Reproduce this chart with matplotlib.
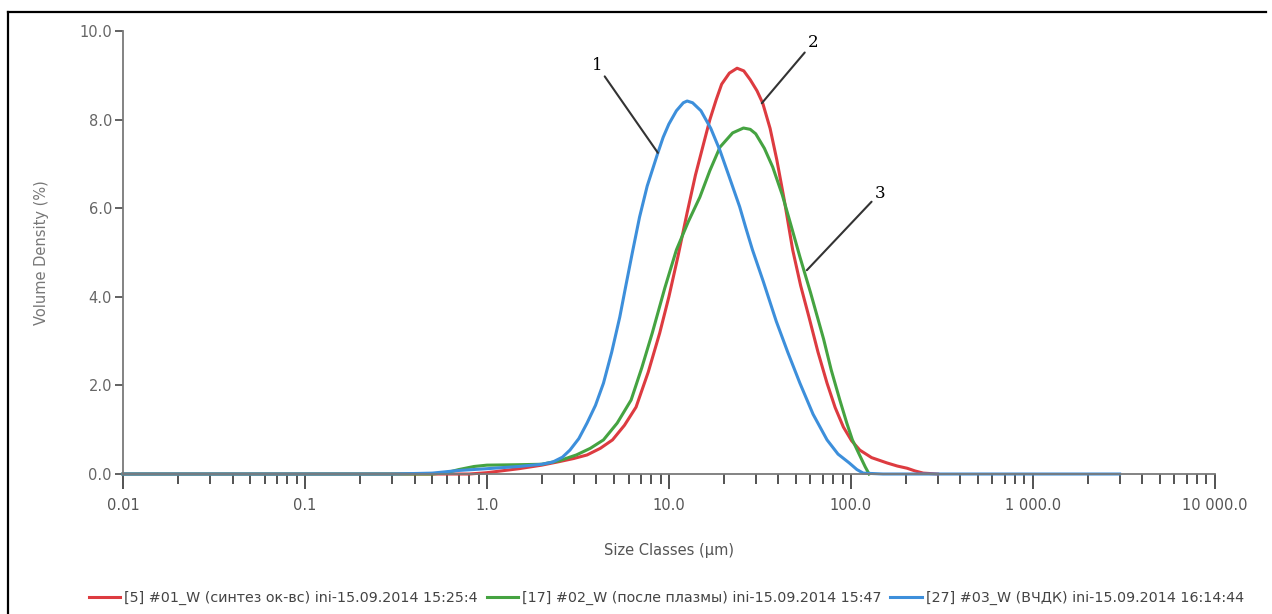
import matplotlib.pyplot as plt
from matplotlib.lines import Line2D
from matplotlib.ticker import FixedLocator, LogLocator, NullFormatter

plt.rcParams['font.family'] = ['DejaVu Sans']

# sizes (um) and volume density (%)
size_blue = [0.01, 0.3, 0.5, 0.7, 1.0, 1.5, 2.0, 2.3, 2.6, 2.86, 3.2, 3.55, 3.95, 4.37, 4.85, 5.37,
             5.8, 6.3, 6.9, 7.6, 8.7, 9.3, 10.0, 11.0, 12.0, 12.6, 13.5, 15.0, 17.0, 19.1, 21.5,
             24.5, 26.5, 28.8, 33.0, 38.9, 45.0, 52.5, 62.0, 74.0, 85.0, 98.0, 108.0, 117.0,
             150.0, 3000.0]
vol_blue = [0.0, 0.0, 0.02, 0.08, 0.12, 0.17, 0.22, 0.27, 0.38, 0.54, 0.8, 1.15, 1.55, 2.05, 2.75, 3.54,
            4.25, 5.0, 5.8, 6.5, 7.25, 7.6, 7.9, 8.2, 8.38, 8.42, 8.38, 8.2, 7.8, 7.3, 6.7,
            6.03, 5.55, 5.06, 4.35, 3.45, 2.75, 2.05, 1.35, 0.77, 0.45, 0.25, 0.1, 0.02,
            0.0, 0.0]

size_red = [0.01, 0.8, 1.0, 1.5, 2.0, 2.5, 3.0, 3.55, 4.2, 4.9, 5.7, 6.6, 7.7, 8.9, 10.0, 11.2,
            12.6, 14.0, 15.5, 16.8, 18.2, 19.5, 21.5, 23.7, 25.8, 28.0, 30.5, 32.8, 36.0, 39.2,
            43.0, 47.9, 53.0, 58.9, 66.0, 74.0, 82.0, 91.0, 101.0, 112.0, 130.0, 158.0, 180.0,
            204.0, 225.0, 250.0, 300.0]
vol_red = [0.0, 0.0, 0.03, 0.12, 0.2, 0.28, 0.35, 0.43, 0.58, 0.77, 1.1, 1.51, 2.3, 3.18, 4.0, 4.9,
           5.9, 6.75, 7.45, 8.0, 8.45, 8.8, 9.05, 9.16, 9.1, 8.9, 8.65, 8.37, 7.8, 7.09,
           6.2, 5.06, 4.25, 3.54, 2.75, 2.05, 1.5, 1.06, 0.75, 0.54, 0.37, 0.25, 0.18,
           0.13, 0.07, 0.02, 0.0]

size_green = [0.01, 0.5, 0.6, 0.7, 0.85, 1.0, 1.5, 2.0, 2.5, 3.1, 3.7, 4.37, 5.2, 6.2, 7.1, 8.1,
              9.5, 11.0, 12.8, 14.8, 16.8, 19.1, 22.4, 25.7, 28.0, 30.0, 33.5, 37.2, 42.0, 47.0,
              52.5, 60.0, 70.8, 78.0, 87.0, 95.0, 102.0, 111.0, 120.0, 126.0]
vol_green = [0.0, 0.0, 0.03, 0.1, 0.17, 0.2, 0.21, 0.22, 0.3, 0.43, 0.58, 0.77, 1.15, 1.67, 2.4, 3.18,
             4.2, 5.06, 5.7, 6.25, 6.85, 7.38, 7.7, 7.81, 7.78, 7.68, 7.35, 6.93, 6.3, 5.6,
             4.9, 4.1, 3.05, 2.35, 1.67, 1.15, 0.77, 0.45, 0.16, 0.0]

labels = ['[5] #01_W (синтез ок-вс) ini-15.09.2014 15:25:4',
          '[17] #02_W (после плазмы) ini-15.09.2014 15:47',
          '[27] #03_W (ВЧДК) ini-15.09.2014 16:14:44']
x_ticks = [0.01, 0.1, 1.0, 10.0, 100.0, 1000.0, 10000.0]
x_ticklabels = ['0.01', '0.1', '1.0', '10.0', '100.0', '1 000.0', '10 000.0']
y_ticks = [0.0, 2.0, 4.0, 6.0, 8.0, 10.0]

red = '#dd3b40'
green = '#45a341'
blue = '#3d8fdb'
grey = '#7a7a7a'

fig = plt.figure(figsize=(12.72, 6.14), dpi=100)
ax = fig.add_axes([0.0967, 0.228, 0.8583, 0.7215])

lw = 2.2
l1, = ax.plot(size_red, vol_red, c=red, lw=lw, clip_on=False, label=labels[0])
l2, = ax.plot(size_green, vol_green, c=green, lw=lw, clip_on=False, label=labels[1])
l3, = ax.plot(size_blue, vol_blue, c=blue, lw=lw, clip_on=False, label=labels[2])

ax.set_xscale('log')
ax.set_xlim(0.01, 10000)
ax.set_ylim(0, 10)

ax.xaxis.set_major_locator(FixedLocator(x_ticks))
ax.set_xticklabels(x_ticklabels)
ax.xaxis.set_minor_locator(LogLocator(base=10, subs=range(2, 10)))
ax.xaxis.set_minor_formatter(NullFormatter())
ax.set_yticks(y_ticks)
ax.set_yticklabels(['%.1f' % v for v in y_ticks])

for s in ['top', 'right']:
    ax.spines[s].set_visible(False)
ax.spines['left'].set_color(grey)
ax.spines['bottom'].set_color(grey)
ax.spines['left'].set_linewidth(1.3)
ax.spines['bottom'].set_linewidth(1.3)

ax.tick_params(axis='x', which='major', direction='out', length=11, width=1.3,
               color='#444444', labelcolor='#555555', labelsize=10.5, pad=6)
ax.tick_params(axis='x', which='minor', direction='out', length=7, width=1.3, color='#444444')
ax.tick_params(axis='y', direction='out', length=6, width=1.3, color='#555555',
               labelcolor='#666666', labelsize=10.5, pad=2)

ax.set_xlabel('Size Classes (μm)', fontsize=10.5, color='#555555', labelpad=22)
ax.set_ylabel('Volume Density (%)', fontsize=10.5, color='#777777', labelpad=22)

# curve numbers
arrow = dict(arrowstyle='-', color='#333333', lw=1.5, shrinkA=0, shrinkB=0)
ax.annotate('1', xy=(8.7, 7.25), xytext=(4.02, 9.23), fontsize=12, family='serif',
            ha='center', va='center', arrowprops=arrow)
ax.annotate('2', xy=(32.4, 8.37), xytext=(61.8, 9.73), fontsize=12, family='serif',
            ha='center', va='center', arrowprops=arrow)
ax.annotate('3', xy=(57.3, 4.6), xytext=(144.0, 6.34), fontsize=12, family='serif',
            ha='center', va='center', arrowprops=arrow)

fig.legend(handles=[l1, l2, l3], loc='center', bbox_to_anchor=(0.524, 0.026), ncol=3,
           frameon=False, fontsize=10.3, handlelength=2.2, handletextpad=0.3,
           columnspacing=0.6, labelcolor='#444444')

# outer frame (top and left edges)
fig.add_artist(Line2D([0.0063, 0.995], [0.9805, 0.9805], color='black', lw=1.6))
fig.add_artist(Line2D([0.0063, 0.0063], [0.0, 0.9805], color='black', lw=1.6))

fig.savefig('out.png', dpi=100)
